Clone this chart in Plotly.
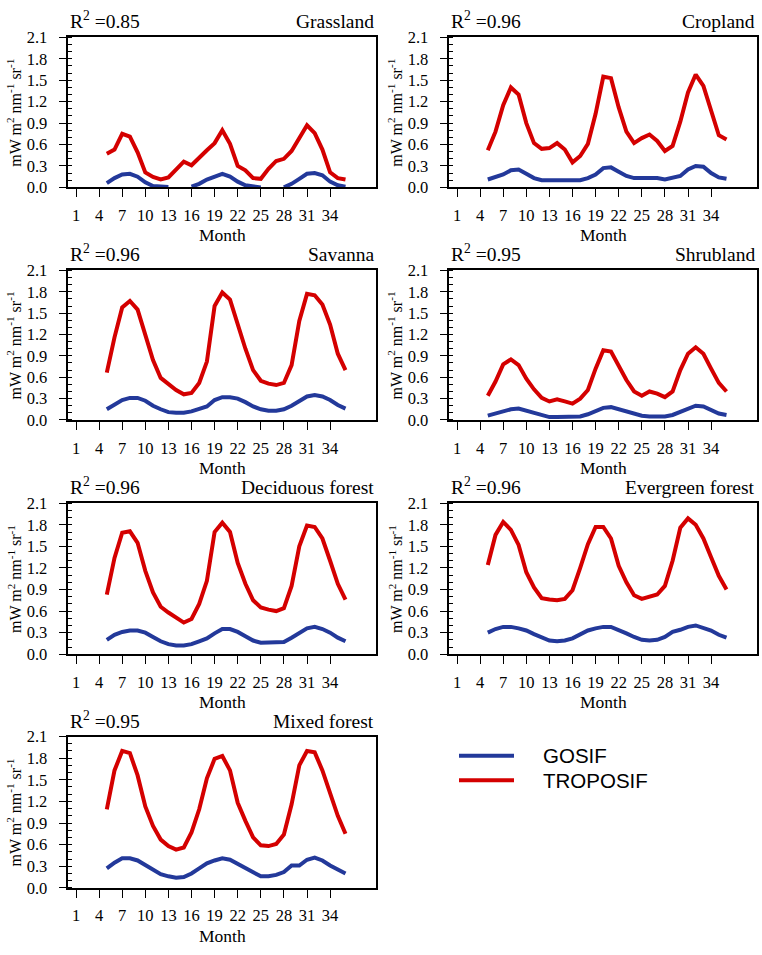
import plotly.graph_objects as go

months = list(range(5, 37))
x_ticks = list(range(1, 35, 3))
y_ticks = [0.0, 0.3, 0.6, 0.9, 1.2, 1.5, 1.8, 2.1]

panels = ["Grassland", "Cropland", "Savanna", "Shrubland",
          "Deciduous forest", "Evergreen forest", "Mixed forest"]
r2_labels = ["0.85", "0.96", "0.96", "0.95", "0.96", "0.96", "0.95"]

grass_tropo = [0.47, 0.53, 0.75, 0.71, 0.49, 0.21, 0.145, 0.11, 0.14, 0.26, 0.36, 0.31,
               0.42, 0.52, 0.62, 0.80, 0.61, 0.30, 0.24, 0.13, 0.12, 0.26, 0.37, 0.40,
               0.51, 0.69, 0.87, 0.76, 0.53, 0.21, 0.13, 0.11]
grass_gosif = [0.06, 0.13, 0.18, 0.19, 0.15, 0.07, 0.02, 0.01, 0.005, None, None, 0.01,
               0.05, 0.11, 0.15, 0.19, 0.15, 0.08, 0.03, 0.01, 0.0, None, None, 0.0,
               0.05, 0.12, 0.19, 0.20, 0.17, 0.08, 0.03, 0.01]

crop_tropo = [0.52, 0.78, 1.15, 1.40, 1.30, 0.90, 0.62, 0.54, 0.55, 0.62, 0.53, 0.35,
              0.44, 0.61, 1.03, 1.55, 1.53, 1.12, 0.78, 0.62, 0.69, 0.74, 0.65, 0.51,
              0.58, 0.92, 1.33, 1.58, 1.42, 1.05, 0.73, 0.67]
crop_gosif = [0.11, 0.14, 0.18, 0.24, 0.25, 0.19, 0.13, 0.10, 0.10, 0.11, 0.11, 0.10,
              0.10, 0.13, 0.18, 0.27, 0.28, 0.22, 0.16, 0.13, 0.13, 0.14, 0.13, 0.11,
              0.13, 0.16, 0.25, 0.30, 0.29, 0.20, 0.14, 0.12]

sav_tropo = [0.665, 1.16, 1.58, 1.67, 1.55, 1.18, 0.84, 0.59, 0.50, 0.42, 0.36, 0.38,
             0.52, 0.82, 1.60, 1.79, 1.69, 1.34, 1.00, 0.70, 0.55, 0.51, 0.49, 0.52,
             0.77, 1.39, 1.77, 1.75, 1.62, 1.34, 0.93, 0.70]
sav_gosif = [0.15, 0.22, 0.28, 0.31, 0.31, 0.27, 0.20, 0.15, 0.11, 0.10, 0.10, 0.12,
             0.15, 0.19, 0.28, 0.32, 0.32, 0.30, 0.25, 0.19, 0.15, 0.13, 0.13, 0.15,
             0.20, 0.27, 0.33, 0.35, 0.33, 0.28, 0.21, 0.16]

shrub_tropo = [0.34, 0.54, 0.78, 0.85, 0.77, 0.58, 0.43, 0.31, 0.26, 0.29, 0.26, 0.23,
               0.30, 0.42, 0.72, 0.98, 0.96, 0.75, 0.56, 0.40, 0.34, 0.40, 0.37, 0.32,
               0.40, 0.70, 0.93, 1.02, 0.93, 0.72, 0.52, 0.40]
shrub_gosif = [0.06, 0.09, 0.12, 0.15, 0.16, 0.13, 0.09, 0.06, 0.04, 0.04, 0.04, 0.04,
               0.05, 0.08, 0.13, 0.17, 0.18, 0.15, 0.11, 0.08, 0.06, 0.05, 0.05, 0.05,
               0.07, 0.11, 0.16, 0.20, 0.19, 0.14, 0.09, 0.07]

dec_tropo = [0.83, 1.34, 1.69, 1.71, 1.55, 1.16, 0.86, 0.66, 0.58, 0.51, 0.44, 0.49,
             0.70, 1.02, 1.70, 1.83, 1.70, 1.27, 0.98, 0.75, 0.65, 0.62, 0.60, 0.64,
             0.95, 1.50, 1.79, 1.77, 1.61, 1.30, 0.98, 0.76]
dec_gosif = [0.20, 0.27, 0.31, 0.33, 0.33, 0.30, 0.24, 0.18, 0.14, 0.12, 0.12, 0.14,
             0.18, 0.22, 0.29, 0.35, 0.35, 0.31, 0.25, 0.19, 0.16, 0.16, 0.16, 0.17,
             0.23, 0.29, 0.36, 0.38, 0.35, 0.30, 0.23, 0.18]

ever_tropo = [1.24, 1.66, 1.84, 1.73, 1.52, 1.14, 0.93, 0.78, 0.76, 0.75, 0.77, 0.89,
              1.20, 1.53, 1.77, 1.77, 1.61, 1.23, 1.00, 0.82, 0.77, 0.80, 0.83, 0.95,
              1.30, 1.76, 1.89, 1.80, 1.61, 1.35, 1.09, 0.90]
ever_gosif = [0.30, 0.35, 0.38, 0.38, 0.36, 0.33, 0.28, 0.23, 0.19, 0.18, 0.19, 0.22,
              0.27, 0.33, 0.36, 0.38, 0.38, 0.34, 0.29, 0.24, 0.20, 0.19, 0.20, 0.24,
              0.31, 0.34, 0.38, 0.40, 0.37, 0.33, 0.27, 0.23]

mix_tropo = [1.09, 1.63, 1.90, 1.87, 1.56, 1.13, 0.86, 0.67, 0.58, 0.53, 0.56, 0.77,
             1.09, 1.52, 1.79, 1.83, 1.63, 1.18, 0.93, 0.70, 0.59, 0.58, 0.61, 0.74,
             1.16, 1.70, 1.90, 1.88, 1.63, 1.32, 1.00, 0.75]
mix_gosif = [0.27, 0.35, 0.41, 0.41, 0.38, 0.32, 0.25, 0.19, 0.16, 0.14, 0.15, 0.20,
             0.27, 0.34, 0.38, 0.41, 0.39, 0.33, 0.27, 0.21, 0.16, 0.16, 0.18, 0.22,
             0.31, 0.31, 0.39, 0.42, 0.38, 0.31, 0.25, 0.20]

tropo_series = [grass_tropo, crop_tropo, sav_tropo, shrub_tropo, dec_tropo, ever_tropo, mix_tropo]
gosif_series = [grass_gosif, crop_gosif, sav_gosif, shrub_gosif, dec_gosif, ever_gosif, mix_gosif]

W, H = 762, 955
RED = "#d40000"
BLUE = "#23399a"
SERIF = "Liberation Serif"
SANS = "Liberation Sans"

col_px = [(68.3, 376.3), (449.3, 757.3)]
row_px = [(29.0, 182.0), (266.7, 419.3), (504.3, 658.3), (742.3, 896.7)]

fig = go.Figure()
annotations = []
shapes = []

for i, name in enumerate(panels):
    r, c = divmod(i, 2)
    n = i + 1
    xa = "x" if n == 1 else f"x{n}"
    ya = "y" if n == 1 else f"y{n}"
    fig.add_trace(go.Scatter(x=months, y=gosif_series[i], mode="lines",
                             line=dict(color=BLUE, width=4), xaxis=xa, yaxis=ya,
                             name="GOSIF", showlegend=False, connectgaps=False))
    fig.add_trace(go.Scatter(x=months, y=tropo_series[i], mode="lines",
                             line=dict(color=RED, width=4), xaxis=xa, yaxis=ya,
                             name="TROPOSIF", showlegend=False))
    x0, x1 = col_px[c]
    t, b = row_px[r]
    xd = [x0 / W, x1 / W]
    yd = [1 - b / H, 1 - t / H]
    axis_common = dict(showline=True, linecolor="black", linewidth=1.5, mirror=True,
                       showgrid=False, zeroline=False, ticks="outside", ticklen=8,
                       tickwidth=1.3, tickcolor="black",
                       tickfont=dict(family=SERIF, size=16.5, color="black"))
    fig.layout[f"xaxis{n if n > 1 else ''}"] = dict(
        domain=xd, anchor=ya, range=[0, 40], tickvals=x_ticks,
        ticklabelstandoff=4, **axis_common)
    fig.layout[f"yaxis{n if n > 1 else ''}"] = dict(
        domain=yd, anchor=xa, range=[0, 2.1], tickvals=y_ticks,
        tickformat=".1f", ticklabelstandoff=8,
        minor=dict(dtick=0.1, ticks="inside", ticklen=4, tickcolor="black", tickwidth=1.2),
        **axis_common)
    # panel texts
    annotations.append(dict(xref="paper", yref="paper", x=x0 / W, y=1 - (t - 3) / H,
                            xanchor="left", yanchor="bottom",
                            text=f"R<sup>2</sup> =" + r2_labels[i], showarrow=False,
                            font=dict(family=SERIF, size=19.5, color="black")))
    annotations.append(dict(xref="paper", yref="paper", x=x1 / W, y=1 - (t - 3) / H,
                            xanchor="right", yanchor="bottom", text=name, showarrow=False,
                            font=dict(family=SERIF, size=19.5, color="black")))
    annotations.append(dict(xref="paper", yref="paper", x=(x0 + x1) / 2 / W,
                            y=1 - (b + 49) / H, xanchor="center", yanchor="middle",
                            text="Month", showarrow=False,
                            font=dict(family=SERIF, size=17.5, color="black")))
    annotations.append(dict(xref="paper", yref="paper", x=(x0 - 54) / W,
                            y=1 - (t + b) / 2 / H, xanchor="center", yanchor="middle",
                            textangle=-90,
                            text="mW m<sup>2</sup> nm<sup>-1</sup> sr<sup>-1</sup>",
                            showarrow=False,
                            font=dict(family=SERIF, size=16, color="black")))

# legend (drawn in the empty eighth cell)
legend_items = [("GOSIF", BLUE, 762), ("TROPOSIF", RED, 787)]
for label, color, ypx in legend_items:
    shapes.append(dict(type="line", xref="paper", yref="paper",
                       x0=459 / W, x1=514 / W, y0=1 - ypx / H, y1=1 - ypx / H,
                       line=dict(color=color, width=4)))
    annotations.append(dict(xref="paper", yref="paper", x=541 / W, y=1 - ypx / H,
                            xanchor="left", yanchor="middle", text=label, showarrow=False,
                            font=dict(family=SANS, size=20.5, color="black")))

fig.update_layout(width=W, height=H, margin=dict(l=0, r=0, t=0, b=0),
                  paper_bgcolor="white", plot_bgcolor="white",
                  annotations=annotations, shapes=shapes, showlegend=False)

fig.write_html("out.html", config={"displayModeBar": False},
               post_script="document.body.style.margin='0';document.body.style.overflow='hidden';")
